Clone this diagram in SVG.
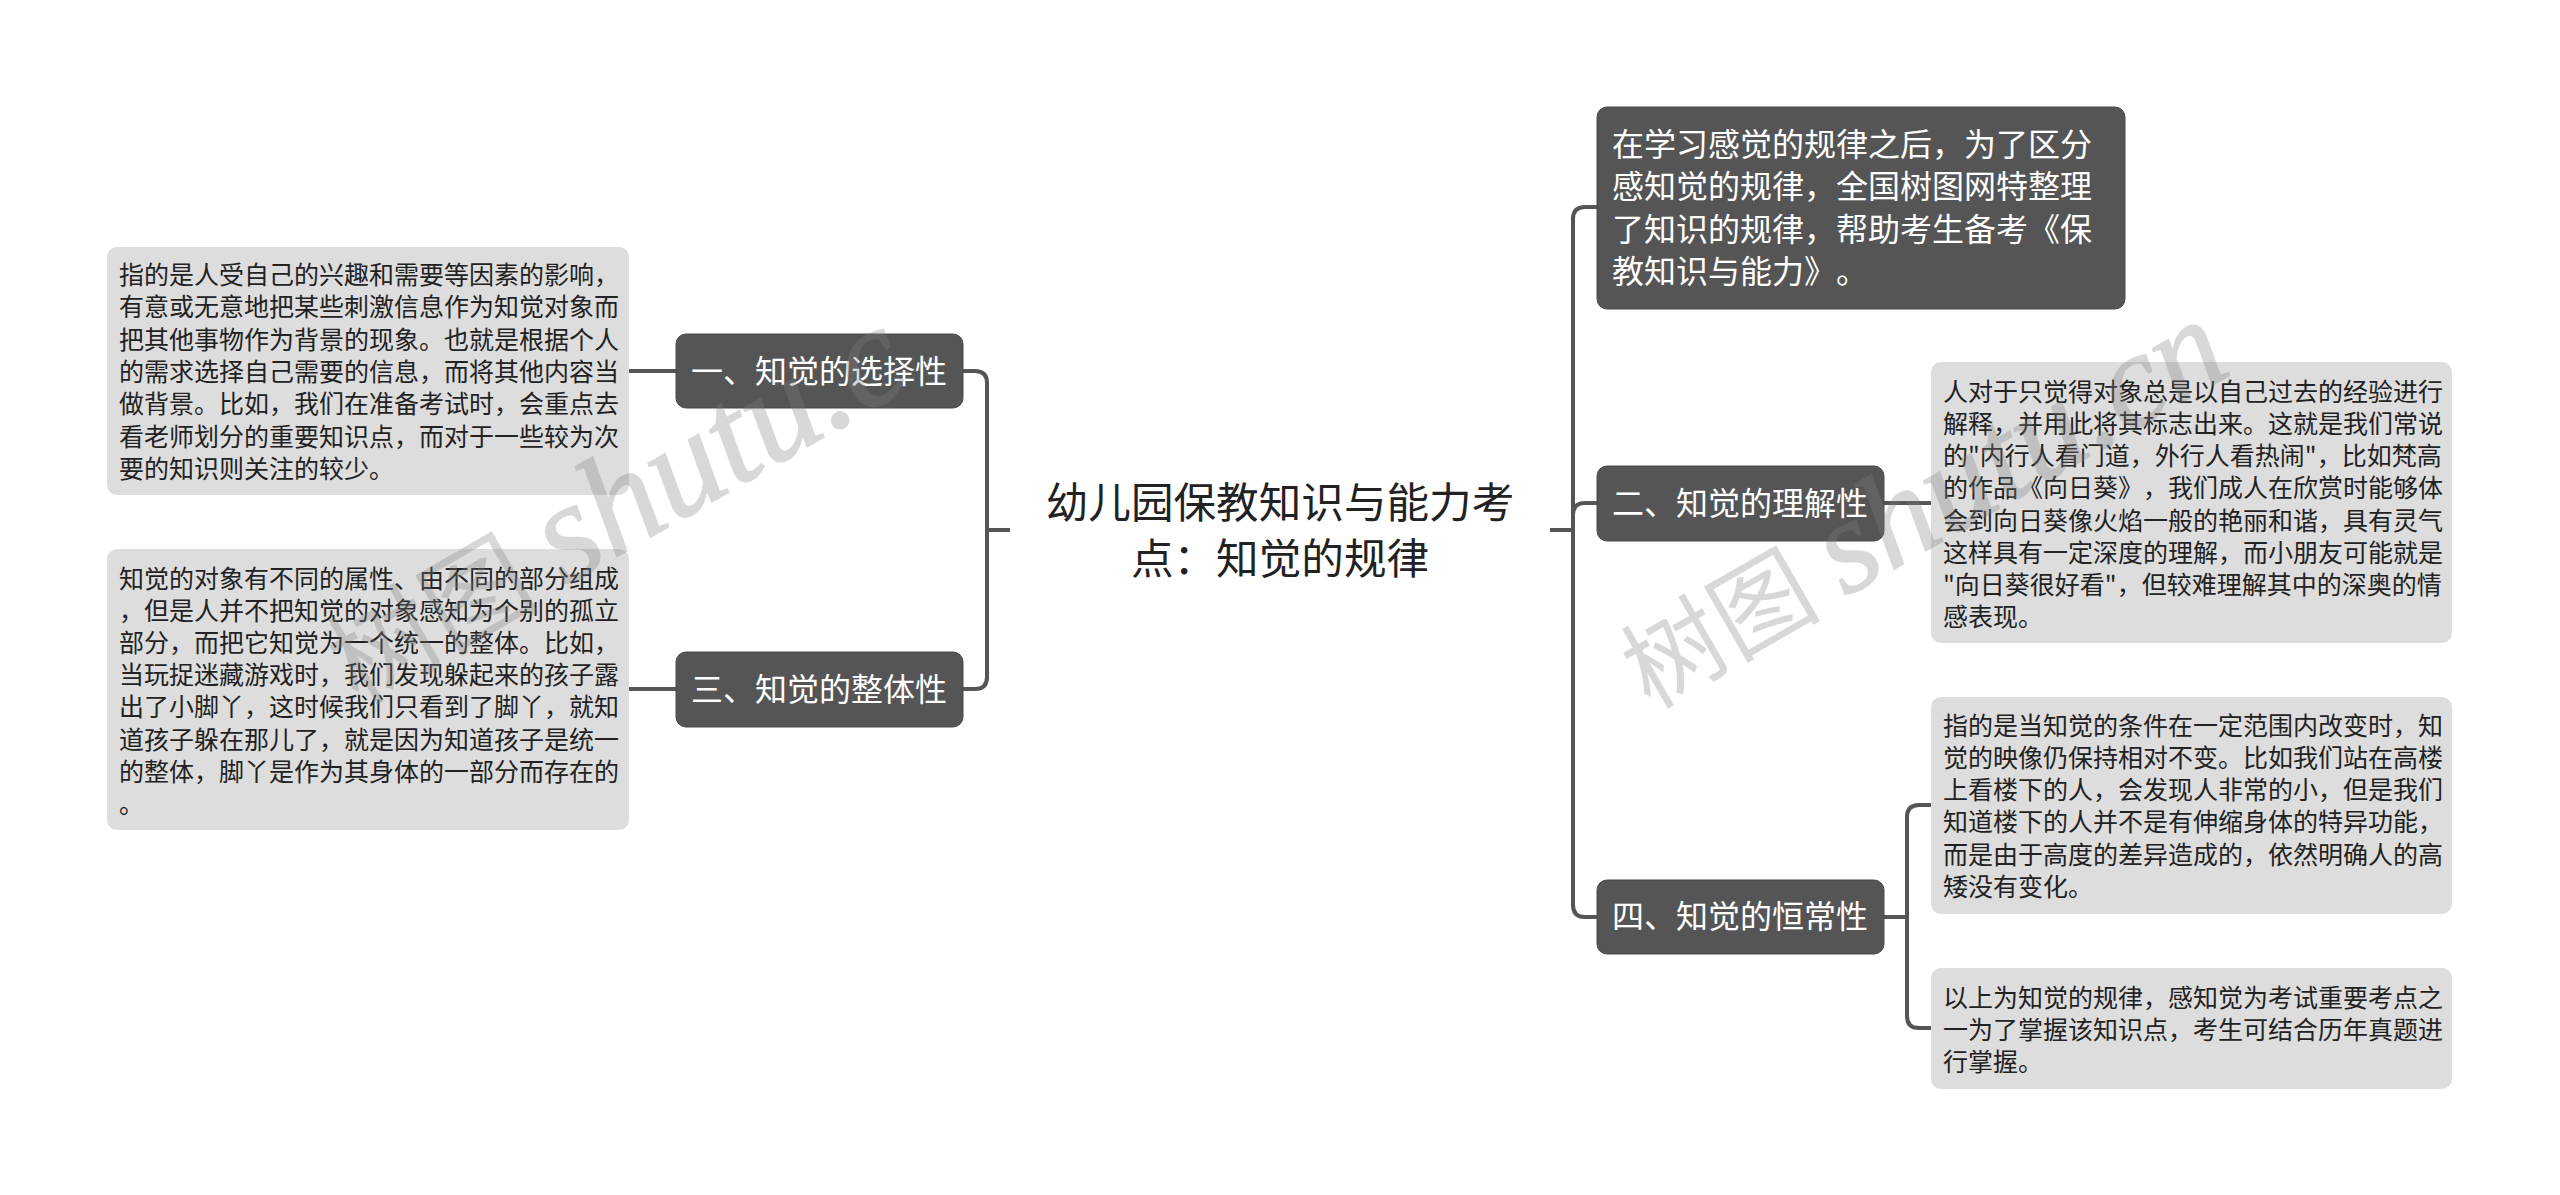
<svg xmlns="http://www.w3.org/2000/svg" width="2560" height="1195" viewBox="0 0 2560 1195">
<style>
text{font-family:"Noto Sans CJK SC","Liberation Sans",sans-serif;text-spacing-trim:space-all;font-kerning:none}
.d{fill:#555;stroke:#4a4a4a;stroke-width:1}
.l{fill:#ddd}
.c{fill:none;stroke:#555;stroke-width:4}
.n{fill:#fff;font-size:32px}
.s{fill:#222;font-size:25px}
.t{fill:#222;font-size:42.6px;text-anchor:middle}
.w{fill:#808080;stroke:#808080;stroke-width:1.5;opacity:.3;font-family:"Liberation Serif","Noto Sans CJK SC",serif;font-style:italic;font-size:134px}
.w .z{font-size:100px;font-style:normal;stroke-width:0}
</style>
<rect width="2560" height="1195" fill="#fff"/>
<g id="connectors">
<path class="c" d="M1010 530H987M963 371H975Q987 371 987 383V677Q987 689 975 689H963M676 371H629M676 689H629"/>
<path class="c" d="M1550 530H1573M1597 207H1585Q1573 207 1573 219V905Q1573 917 1585 917H1597M1597 503H1585Q1573 503 1573 515"/>
<path class="c" d="M1884 503H1931M1884 917H1907M1931 805H1919Q1907 805 1907 817V1016Q1907 1028 1919 1028H1931"/>
</g>
<g id="root"><text class="t" x="1280" y="518">幼儿园保教知识与能力考</text><text class="t" x="1280" y="574">点：知觉的规律</text></g>
<g id="n1"><rect class="d" x="676" y="334" width="287" height="74" rx="10"/><text class="n" x="691" y="383">一、知觉的选择性</text></g>
<g id="n3"><rect class="d" x="676" y="652" width="287" height="75" rx="10"/><text class="n" x="691" y="701">三、知觉的整体性</text></g>
<g id="n0"><rect class="d" x="1597" y="107" width="528" height="202" rx="10"/>
<text class="n" x="1612" y="156">在学习感觉的规律之后，为了区分</text><text class="n" x="1612" y="198">感知觉的规律，全国树图网特整理</text><text class="n" x="1612" y="241">了知识的规律，帮助考生备考《保</text><text class="n" x="1612" y="283">教知识与能力》。</text></g>
<g id="n2"><rect class="d" x="1597" y="466" width="287" height="75" rx="10"/><text class="n" x="1612" y="515">二、知觉的理解性</text></g>
<g id="n4"><rect class="d" x="1597" y="880" width="287" height="74" rx="10"/><text class="n" x="1612" y="928">四、知觉的恒常性</text></g>
<g id="s1"><rect class="l" x="107" y="247" width="522" height="248" rx="10"/>
<text class="s" x="119" y="284">指的是人受自己的兴趣和需要等因素的影响，</text><text class="s" x="119" y="316">有意或无意地把某些刺激信息作为知觉对象而</text><text class="s" x="119" y="349">把其他事物作为背景的现象。也就是根据个人</text><text class="s" x="119" y="381">的需求选择自己需要的信息，而将其他内容当</text><text class="s" x="119" y="413">做背景。比如，我们在准备考试时，会重点去</text><text class="s" x="119" y="446">看老师划分的重要知识点，而对于一些较为次</text><text class="s" x="119" y="478">要的知识则关注的较少。</text></g>
<g id="s3"><rect class="l" x="107" y="549" width="522" height="281" rx="10"/>
<text class="s" x="119" y="588">知觉的对象有不同的属性、由不同的部分组成</text><text class="s" x="119" y="620">，但是人并不把知觉的对象感知为个别的孤立</text><text class="s" x="119" y="652">部分，而把它知觉为一个统一的整体。比如，</text><text class="s" x="119" y="684">当玩捉迷藏游戏时，我们发现躲起来的孩子露</text><text class="s" x="119" y="716">出了小脚丫，这时候我们只看到了脚丫，就知</text><text class="s" x="119" y="749">道孩子躲在那儿了，就是因为知道孩子是统一</text><text class="s" x="119" y="781">的整体，脚丫是作为其身体的一部分而存在的</text><text class="s" x="119" y="813">。</text></g>
<g id="s2"><rect class="l" x="1931" y="362" width="521" height="281" rx="10"/>
<text class="s" x="1943" y="401">人对于只觉得对象总是以自己过去的经验进行</text><text class="s" x="1943" y="433">解释，并用此将其标志出来。这就是我们常说</text><text class="s" x="1943" y="465">的"内行人看门道，外行人看热闹"，比如梵高</text><text class="s" x="1943" y="497">的作品《向日葵》，我们成人在欣赏时能够体</text><text class="s" x="1943" y="530">会到向日葵像火焰一般的艳丽和谐，具有灵气</text><text class="s" x="1943" y="562">这样具有一定深度的理解，而小朋友可能就是</text><text class="s" x="1943" y="594">"向日葵很好看"，但较难理解其中的深奥的情</text><text class="s" x="1943" y="626">感表现。</text></g>
<g id="s4a"><rect class="l" x="1931" y="697" width="521" height="217" rx="10"/>
<text class="s" x="1943" y="735">指的是当知觉的条件在一定范围内改变时，知</text><text class="s" x="1943" y="767">觉的映像仍保持相对不变。比如我们站在高楼</text><text class="s" x="1943" y="799">上看楼下的人，会发现人非常的小，但是我们</text><text class="s" x="1943" y="831">知道楼下的人并不是有伸缩身体的特异功能，</text><text class="s" x="1943" y="864">而是由于高度的差异造成的，依然明确人的高</text><text class="s" x="1943" y="896">矮没有变化。</text></g>
<g id="s4b"><rect class="l" x="1931" y="968" width="521" height="121" rx="10"/>
<text class="s" x="1943" y="1007">以上为知觉的规律，感知觉为考试重要考点之</text><text class="s" x="1943" y="1039">一为了掌握该知识点，考生可结合历年真题进</text><text class="s" x="1943" y="1071">行掌握。</text></g>
<g id="watermark"><text class="w" transform="translate(358 706) rotate(-30) scale(1.06)"><tspan class="z">树图 </tspan>shutu.c</text><text class="w" transform="translate(1650 710) rotate(-30)"><tspan class="z">树图 </tspan>shutu.cn</text></g>
</svg>
